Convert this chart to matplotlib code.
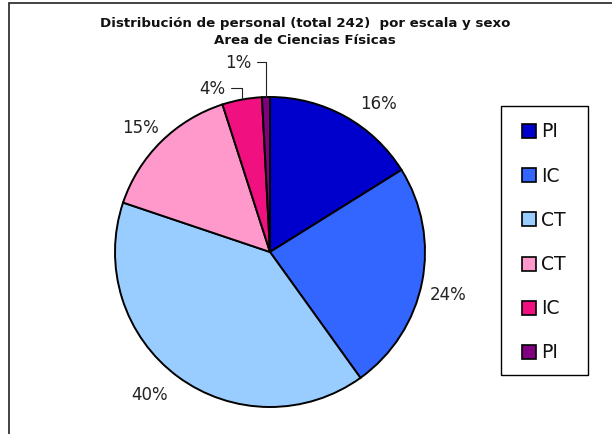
import numpy as np
import matplotlib
matplotlib.use("Agg")
import matplotlib.pyplot as plt
from matplotlib.patches import Rectangle

# Data
labels = ["PI", "IC", "CT", "CT", "IC", "PI"]
counts = [39, 58, 97, 36, 10, 2]
pct_labels = ["16%", "24%", "40%", "15%", "4%", "1%"]
colors = ["#0000CC", "#3366FF", "#99CCFF", "#FF99CC", "#F0107F", "#800080"]
title_lines = ["Distribución de personal (total 242)  por escala y sexo", "Area de Ciencias Físicas"]

W, H = 612, 435
fig = plt.figure(figsize=(W / 100, H / 100), dpi=100)
fig.patch.set_facecolor("white")

def px(x, y):
    return x / W, 1 - y / H

# outer frame (left and top visible)
fig.add_artist(Rectangle((9 / W, -0.05), 1.2, (H - 4) / H + 0.05, transform=fig.transFigure,
                         fill=False, edgecolor="#222222", linewidth=1.2))

# pie axes: center (270,253) px, radius 155 px
R = 155
lim = 1.25
side = 2 * lim * R
cx, cy = 270, H - 253
ax = fig.add_axes([(cx - side / 2) / W, (cy - side / 2) / H, side / W, side / H])
ax.set_xlim(-lim, lim)
ax.set_ylim(-lim, lim)
ax.set_aspect("equal")
ax.axis("off")

wedges, _ = ax.pie(counts, colors=colors, startangle=90, counterclock=False, radius=1.0,
                   wedgeprops=dict(edgecolor="black", linewidth=1.4))

# label placement: (angle offset from wedge middle in degrees, distance in radii)
placement = [(-7, 1.19), (-2, 1.18), (-4, 1.20), (1.5, 1.16), (9, 1.12), (8, 1.245)]
lab_fs = 12
for i, (w, t) in enumerate(zip(wedges, pct_labels)):
    mid = np.deg2rad((w.theta1 + w.theta2) / 2)
    dang, dist = placement[i]
    ang = mid + np.deg2rad(dang)
    x, y = dist * np.cos(ang), dist * np.sin(ang)
    if i >= 4:
        ex, ey = np.cos(mid), np.sin(mid)
        ax.annotate(t, xy=(ex, ey), xytext=(x, y), ha="center", va="center", fontsize=lab_fs,
                    color="#222222",
                    arrowprops=dict(arrowstyle="-", color="#222222", lw=0.8,
                                    connectionstyle="angle,angleA=0,angleB=90,rad=0",
                                    shrinkA=2, shrinkB=0))
    else:
        ax.text(x, y, t, ha="center", va="center", fontsize=lab_fs, color="#222222")

# title (two lines, baselines at 27 and 44 px)
for line, base in zip(title_lines, [27, 44]):
    fig.text(*px(305, base), line, ha="center", va="baseline", fontsize=9.6,
             fontweight="bold", color="#111111")

# legend box drawn by hand
lx0, ly0, lx1, ly1 = 501, 107, 588, 376
fig.add_artist(Rectangle(px(lx0, ly1), (lx1 - lx0) / W, (ly1 - ly0) / H,
                         transform=fig.transFigure, fill=False, edgecolor="black", linewidth=1.0))
first_y, step = 132, 44.2
msz = 14
for k, (lab, col) in enumerate(zip(labels, colors)):
    yc = first_y + k * step
    fig.add_artist(Rectangle(px(522, yc + msz / 2), msz / W, msz / H, transform=fig.transFigure,
                             facecolor=col, edgecolor="black", linewidth=1.2))
    fig.text(*px(541, yc), lab, ha="left", va="center", fontsize=13.5, color="#111111")

fig.savefig("out.png", dpi=100)
